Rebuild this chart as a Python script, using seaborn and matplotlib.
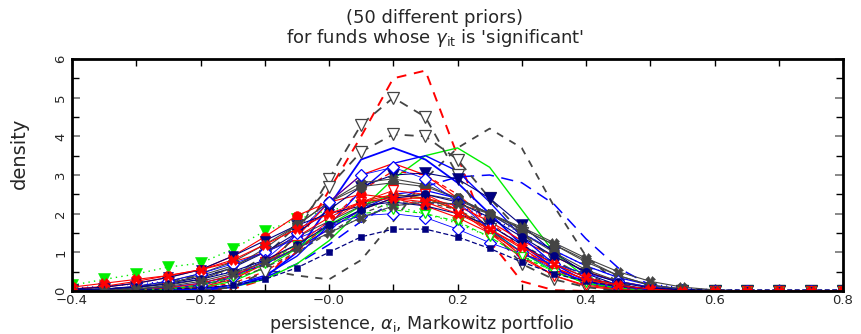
import numpy as np
import pandas as pd
import matplotlib
matplotlib.use("Agg")
import matplotlib.pyplot as plt
import seaborn as sns
from matplotlib.ticker import MultipleLocator

# ---------------- data ----------------
x_grid = [-0.40, -0.35, -0.30, -0.25, -0.20, -0.15, -0.10, -0.05, 0.00, 0.05,
          0.10, 0.15, 0.20, 0.25, 0.30, 0.35, 0.40, 0.45, 0.50, 0.55,
          0.60, 0.65, 0.70, 0.75, 0.80]

c01 = [0, 0, 0, 0, 0, 0.05, 0.3, 1.2, 2.6, 4.0, 5.5, 5.7, 3.5, 1.3, 0.25, 0.02, 0, 0, 0, 0, 0, 0, 0, 0, 0]
c02 = [0, 0, 0, 0, 0, 0.1, 0.5, 1.5, 2.9, 4.3, 5.0, 4.5, 3.0, 1.6, 0.7, 0.3, 0.1, 0, 0, 0, 0, 0, 0, 0, 0]
c03 = [0, 0, 0, 0.05, 0.15, 0.4, 0.9, 1.7, 2.7, 3.6, 4.05, 4.0, 3.4, 2.4, 1.5, 0.8, 0.35, 0.1, 0, 0, 0, 0, 0, 0, 0]
c04 = [0.02, 0.05, 0.1, 0.25, 0.4, 0.55, 0.55, 0.4, 0.3, 0.8, 1.8, 2.9, 3.7, 4.2, 3.7, 2.2, 0.9, 0.2, 0.02, 0, 0, 0, 0, 0, 0]
c05 = [0, 0, 0, 0, 0.05, 0.15, 0.35, 0.7, 1.2, 1.8, 2.3, 2.7, 2.95, 3.0, 2.8, 2.25, 1.35, 0.6, 0.15, 0, 0, 0, 0, 0, 0]
c06 = [0, 0, 0, 0, 0.02, 0.1, 0.3, 0.7, 1.3, 2.1, 2.9, 3.5, 3.7, 3.2, 2.1, 1.0, 0.35, 0.08, 0, 0, 0, 0, 0, 0, 0]
c07 = [0, 0, 0, 0, 0.02, 0.1, 0.35, 1.0, 2.2, 3.4, 3.7, 3.4, 2.8, 2.0, 1.2, 0.6, 0.2, 0.05, 0, 0, 0, 0, 0, 0, 0]
c08 = [0.15, 0.3, 0.44, 0.62, 0.72, 1.08, 1.55, 1.85, 2.1, 2.2, 2.2, 2.0, 1.75, 1.4, 0.9, 0.5, 0.2, 0.1, 0.03, 0, 0, 0, 0, 0, 0]
c09 = [0.05, 0.12, 0.25, 0.4, 0.55, 0.75, 1.0, 1.4, 1.9, 2.3, 2.5, 2.4, 2.1, 1.6, 1.1, 0.6, 0.3, 0.12, 0.05, 0, 0, 0, 0, 0, 0]
c10 = [0.05, 0.1, 0.2, 0.35, 0.55, 0.9, 1.4, 1.95, 2.3, 2.5, 2.4, 2.2, 1.9, 1.5, 1.0, 0.6, 0.3, 0.1, 0.03, 0, 0, 0, 0, 0, 0]
c11 = [0.02, 0.05, 0.1, 0.2, 0.35, 0.6, 1.0, 1.5, 2.1, 2.7, 3.0, 3.05, 2.9, 2.4, 1.7, 1.0, 0.45, 0.15, 0.05, 0, 0, 0, 0, 0, 0]
c12 = [0.05, 0.1, 0.2, 0.35, 0.55, 0.9, 1.3, 1.7, 2.0, 2.2, 2.3, 2.2, 2.0, 1.7, 1.2, 0.7, 0.35, 0.15, 0.05, 0, 0, 0, 0, 0, 0]
c13 = [0.02, 0.05, 0.12, 0.25, 0.45, 0.75, 1.2, 1.7, 2.3, 2.7, 2.8, 2.7, 2.4, 2.0, 1.5, 1.0, 0.55, 0.25, 0.1, 0.03, 0, 0, 0, 0, 0]
c14 = [0, 0.03, 0.08, 0.2, 0.4, 0.65, 1.0, 1.4, 1.8, 2.2, 2.45, 2.5, 2.35, 2.0, 1.6, 1.2, 0.75, 0.4, 0.15, 0.05, 0, 0, 0, 0, 0]
c15 = [0, 0.02, 0.05, 0.15, 0.3, 0.6, 1.1, 1.7, 2.3, 2.8, 2.9, 2.75, 2.4, 2.0, 1.6, 1.2, 0.8, 0.4, 0.15, 0.05, 0, 0, 0, 0, 0]
c16 = [0.02, 0.05, 0.12, 0.25, 0.45, 0.7, 1.0, 1.35, 1.7, 1.95, 2.0, 1.9, 1.6, 1.25, 0.95, 0.7, 0.45, 0.25, 0.1, 0.03, 0, 0, 0, 0, 0]
c17 = [0, 0, 0.02, 0.06, 0.15, 0.35, 0.8, 1.5, 2.3, 3.0, 3.2, 2.9, 2.3, 1.6, 1.0, 0.55, 0.25, 0.1, 0.03, 0, 0, 0, 0, 0, 0]
c18 = [0, 0, 0, 0.03, 0.1, 0.3, 0.7, 1.4, 2.3, 3.0, 3.3, 3.0, 2.4, 1.6, 0.9, 0.4, 0.12, 0.03, 0, 0, 0, 0, 0, 0, 0]
c19 = [0, 0, 0.02, 0.05, 0.15, 0.35, 0.7, 1.1, 1.6, 2.1, 2.4, 2.4, 2.2, 1.8, 1.3, 0.9, 0.5, 0.25, 0.1, 0.03, 0, 0, 0, 0, 0]
c20 = [0, 0, 0.02, 0.08, 0.2, 0.4, 0.75, 1.2, 1.8, 2.3, 2.6, 2.5, 2.1, 1.5, 0.85, 0.4, 0.15, 0.05, 0, 0, 0, 0, 0, 0, 0]
c21 = [0, 0.02, 0.05, 0.1, 0.2, 0.4, 0.7, 1.1, 1.6, 2.1, 2.5, 2.6, 2.4, 2.0, 1.5, 1.05, 0.65, 0.35, 0.15, 0.05, 0.01, 0, 0, 0, 0]
c22 = [0, 0, 0, 0.02, 0.08, 0.25, 0.6, 1.1, 1.7, 2.2, 2.5, 2.4, 2.1, 1.6, 1.0, 0.5, 0.2, 0.05, 0, 0, 0, 0, 0, 0, 0]
c23 = [0, 0, 0.02, 0.05, 0.15, 0.35, 0.7, 1.2, 1.7, 2.0, 2.1, 2.0, 1.8, 1.4, 0.9, 0.5, 0.2, 0.08, 0, 0, 0, 0, 0, 0, 0]
c24 = [0, 0, 0.02, 0.06, 0.15, 0.3, 0.6, 1.0, 1.5, 2.0, 2.3, 2.3, 2.1, 1.7, 1.2, 0.75, 0.4, 0.15, 0.05, 0, 0, 0, 0, 0, 0]
c25 = [0.08, 0.12, 0.18, 0.25, 0.35, 0.5, 0.75, 1.1, 1.5, 1.9, 2.2, 2.3, 2.2, 1.9, 1.5, 1.05, 0.65, 0.35, 0.18, 0.08, 0.03, 0.01, 0, 0, 0]
c26 = [0.05, 0.04, 0.04, 0.05, 0.08, 0.15, 0.3, 0.6, 1.0, 1.4, 1.6, 1.6, 1.4, 1.1, 0.75, 0.45, 0.25, 0.12, 0.06, 0.04, 0.03, 0.03, 0.03, 0.03, 0.03]
c27 = [0, 0, 0, 0.02, 0.08, 0.2, 0.5, 1.0, 1.8, 2.6, 3.1, 3.0, 2.5, 1.8, 1.1, 0.55, 0.2, 0.05, 0, 0, 0, 0, 0, 0, 0]
c28 = [0.03, 0.05, 0.1, 0.18, 0.3, 0.5, 0.8, 1.2, 1.7, 2.1, 2.4, 2.5, 2.3, 1.9, 1.4, 0.9, 0.5, 0.22, 0.08, 0.02, 0, 0, 0, 0, 0]
c29 = [0, 0, 0, 0.02, 0.05, 0.15, 0.4, 0.9, 1.7, 2.6, 3.3, 3.5, 3.1, 2.3, 1.4, 0.7, 0.25, 0.06, 0, 0, 0, 0, 0, 0, 0]
c30 = [0, 0.02, 0.05, 0.12, 0.25, 0.45, 0.75, 1.1, 1.5, 1.9, 2.2, 2.3, 2.25, 2.0, 1.65, 1.25, 0.85, 0.5, 0.25, 0.1, 0.03, 0, 0, 0, 0]
c31 = [0.1, 0.2, 0.3, 0.4, 0.55, 0.8, 1.2, 1.6, 2.0, 2.3, 2.4, 2.3, 2.0, 1.6, 1.15, 0.7, 0.35, 0.15, 0.05, 0, 0, 0, 0, 0, 0]

curves = [c01, c02, c03, c04, c05, c06, c07, c08, c09, c10, c11, c12, c13, c14, c15, c16,
          c17, c18, c19, c20, c21, c22, c23, c24, c25, c26, c27, c28, c29, c30, c31]

x_ticks = [-0.4, -0.2, 0.0, 0.2, 0.4, 0.6, 0.8]
x_tick_labels = ["\u22120.4", "\u22120.2", "\u22120.0", "0.2", "0.4", "0.6", "0.8"]
y_ticks = [0, 1, 2, 3, 4, 5, 6]

# ---------------- styles ----------------
RED, BLUE, GREEN, GREY, NAVY = "#ff0000", "#0000ff", "#00ee00", "#444444", "#000080"
# (color, linestyle, linewidth, marker, filled, markersize)
styles = [
    (RED, (0, (5, 4)), 1.4, None, True, 0),
    (GREY, (0, (5, 4)), 1.3, "v", False, 8),
    (GREY, (0, (5, 4)), 1.3, "v", False, 8),
    (GREY, (0, (4, 4)), 1.3, None, True, 0),
    (BLUE, (0, (8, 5)), 1.1, None, True, 0),
    (GREEN, "-", 1.0, None, True, 0),
    (BLUE, "-", 1.3, None, True, 0),
    (GREEN, (0, (1, 3)), 1.0, "v", True, 8),
    (RED, "-", 0.8, "o", True, 7),
    (RED, "-", 0.8, "o", True, 7),
    (NAVY, "-", 0.8, "v", True, 8),
    (NAVY, "-", 0.8, "v", True, 7),
    (GREY, "-", 0.8, "8", True, 8),
    (GREY, "-", 0.8, "8", True, 7),
    (GREY, "-", 0.8, "X", True, 7),
    (BLUE, "-", 0.6, "D", False, 6),
    (BLUE, "-", 0.6, "D", False, 6),
    (RED, "-", 0.9, None, True, 0),
    (RED, "-", 0.9, None, True, 0),
    (RED, "-", 0.7, "v", False, 7),
    (BLUE, "-", 0.9, None, True, 0),
    (GREEN, "-", 0.9, None, True, 0),
    (GREEN, (0, (4, 3)), 0.8, "v", False, 6),
    (GREY, (0, (4, 3)), 0.9, None, True, 0),
    (BLUE, (0, (1, 3)), 0.9, None, True, 0),
    (NAVY, (0, (4, 2)), 0.9, "s", True, 5),
    (RED, (0, (4, 3)), 0.9, None, True, 0),
    (NAVY, "-", 0.8, "o", True, 6),
    (BLUE, "-", 1.0, None, True, 0),
    (GREY, "-", 0.8, "X", True, 7),
    (RED, "-", 0.8, "X", True, 7),
]

rows = []
for i, ys in enumerate(curves):
    for xv, yv in zip(x_grid, ys):
        rows.append({"curve": i, "x": xv, "density": yv})
df = pd.DataFrame(rows)

sns.set_style("white")
plt.rcParams["font.family"] = ["DejaVu Sans"]

fig = plt.figure(figsize=(8.61, 3.34), dpi=100)
ax = fig.add_axes([72 / 861, 1 - 291 / 334, (843 - 72) / 861, (291 - 59) / 334])

# draw markerless lines first, then marker curves on top
order = [i for i in range(len(curves)) if styles[i][3] is None] + \
        [i for i in range(len(curves)) if styles[i][3] is not None]
for i in order:
    color, ls, lw, mk, filled, ms = styles[i]
    sub = df[df["curve"] == i]
    kw = dict(color=color, linestyle=ls, linewidth=lw)
    if mk is not None:
        kw.update(marker=mk, markersize=ms,
                  markerfacecolor=color if filled else "white",
                  markeredgecolor=color, markeredgewidth=0.9 if not filled else 0.4)
    sns.lineplot(data=sub, x="x", y="density", ax=ax, sort=False,
                 estimator=None, legend=False, clip_on=True, **kw)

ax.set_xlim(-0.4, 0.8)
ax.set_ylim(0, 6)
ax.set_xticks(x_ticks)
ax.set_xticklabels(x_tick_labels)
ax.set_yticks(y_ticks)
ax.xaxis.set_minor_locator(MultipleLocator(0.1))
ax.yaxis.set_minor_locator(MultipleLocator(0.5))
ax.tick_params(axis="both", which="both", direction="in", top=True, right=True,
               bottom=True, left=True, length=5, width=1.0, color="black",
               labelsize=9.5)
ax.tick_params(axis="y", which="major", color="#888888", width=1.4, length=6)
ax.tick_params(axis="x", which="major", pad=2)
for lbl in ax.get_yticklabels():
    lbl.set_rotation(90)
    lbl.set_va("center")
for sp in ax.spines.values():
    sp.set_linewidth(2.0)
    sp.set_color("black")

ax.set_xlabel("")
ax.set_ylabel("")
fig.text(0.022, 0.54, "density", rotation=90, ha="center", va="center", fontsize=14,
         family=["Liberation Sans Narrow", "DejaVu Sans"])
fig.text(0.505, 0.945, "(50 different priors)", ha="center", va="center", fontsize=13)
fig.text(0.505, 0.885, "for funds whose $\\gamma_{\\rm it}$ is 'significant'",
         ha="center", va="center", fontsize=13)
fig.text(0.49, 0.03, "persistence, $\\alpha_{\\rm i}$, Markowitz portfolio",
         ha="center", va="center", fontsize=12.5)

fig.savefig("out.png", dpi=100)
